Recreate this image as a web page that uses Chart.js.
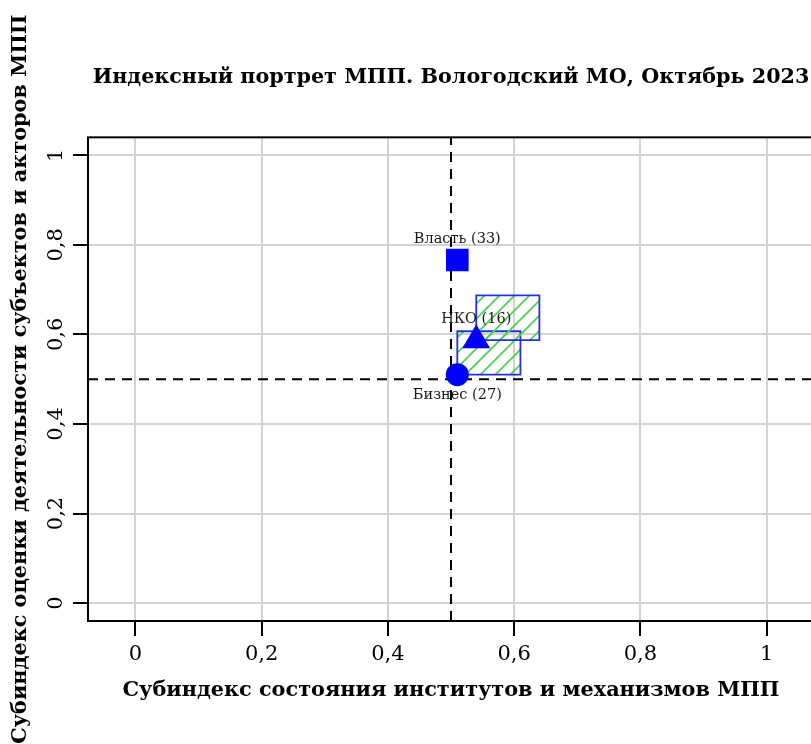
<!DOCTYPE html>
<html>
<head>
<meta charset="utf-8">
<script src="https://cdn.jsdelivr.net/npm/chart.js@4"></script>
<style>
  html, body { margin: 0; padding: 0; overflow: hidden; background: #fff; }
  canvas { display: block; }
</style>
</head>
<body>
<canvas id="chart" width="830" height="744"></canvas>
<script>
// groups of respondents and their two sub-indices
const groups = ['Власть', 'НКО', 'Бизнес'];
const respondents = [33, 16, 27];
const institutionsIndex = [0.51, 0.54, 0.51];
const actorsIndex = [0.766, 0.587, 0.51];

// hatched boxes
const boxXMin = [0.54, 0.51];
const boxXMax = [0.64, 0.61];
const boxYMin = [0.587, 0.51];
const boxYMax = [0.687, 0.607];

const threshold = 0.5;
const tickValues = [0, 0.2, 0.4, 0.6, 0.8, 1];
const tickLabels = ['0', '0,2', '0,4', '0,6', '0,8', '1'];

const titleText = 'Индексный портрет МПП. Вологодский МО, Октябрь 2023';
const xTitle = 'Субиндекс состояния институтов и механизмов МПП';
const yTitle = 'Субиндекс оценки деятельности субъектов и акторов МПП';

const SERIF = "'DejaVu Serif', serif";
const BLUE = '#0000ff';
const pointStyles = ['rect', 'triangle', 'circle'];
const pointSizes = [16, 16, 11.5];
const labelSide = [-1, -1, 1]; // -1 above the point, 1 below

function hatchPattern() {
  const s = 15;
  const tile = document.createElement('canvas');
  tile.width = s;
  tile.height = s;
  const g = tile.getContext('2d');
  g.strokeStyle = '#4fd24f';
  g.lineWidth = 1.8;
  g.beginPath();
  g.moveTo(-2, s + 2); g.lineTo(s + 2, -2);
  g.moveTo(-2, 2); g.lineTo(2, -2);
  g.moveTo(s - 2, s + 2); g.lineTo(s + 2, s - 2);
  g.stroke();
  return g.createPattern(tile, 'repeat');
}

const hatch = hatchPattern();

const boxDatasets = boxXMin.map((x0, i) => ({
  type: 'line',
  data: [
    { x: x0, y: boxYMin[i] },
    { x: boxXMax[i], y: boxYMin[i] },
    { x: boxXMax[i], y: boxYMax[i] },
    { x: x0, y: boxYMax[i] },
    { x: x0, y: boxYMin[i] },
  ],
  borderColor: '#2233dd',
  borderWidth: 1.8,
  backgroundColor: hatch,
  fill: 'shape',
  pointRadius: 0,
  tension: 0,
}));

const dashed = (data) => ({
  type: 'line',
  data,
  borderColor: '#000',
  borderWidth: 2,
  borderDash: [10, 7],
  pointRadius: 0,
  fill: false,
});

const frame = {
  id: 'frame',
  afterDatasetsDraw(chart) {
    const { ctx, chartArea: a } = chart;
    ctx.save();
    ctx.strokeStyle = '#000';
    ctx.lineWidth = 2;
    ctx.strokeRect(a.left, a.top, a.right - a.left, a.bottom - a.top);
    ctx.restore();
  },
};

const pointLabels = {
  id: 'pointLabels',
  afterDatasetsDraw(chart) {
    const { ctx } = chart;
    const meta = chart.getDatasetMeta(0);
    ctx.save();
    ctx.font = '14.5px ' + SERIF;
    ctx.fillStyle = '#1a1a1a';
    ctx.textAlign = 'center';
    ctx.textBaseline = 'middle';
    meta.data.forEach((pt, i) => {
      ctx.fillText(groups[i] + ' (' + respondents[i] + ')', pt.x, pt.y + labelSide[i] * 21);
    });
    ctx.restore();
  },
};

const axisTicks = (scale) => {
  scale.ticks = tickValues.map((v) => ({ value: v }));
};

new Chart(document.getElementById('chart'), {
  type: 'scatter',
  data: {
    datasets: [
      {
        data: institutionsIndex.map((x, i) => ({ x, y: actorsIndex[i] })),
        backgroundColor: BLUE,
        borderColor: BLUE,
        borderWidth: 0,
        pointStyle: pointStyles,
        pointRadius: pointSizes,
      },
      ...boxDatasets,
      dashed([{ x: threshold, y: -0.04 }, { x: threshold, y: 1.04 }]),
      dashed([{ x: -0.075, y: threshold }, { x: 1.075, y: threshold }]),
    ],
  },
  options: {
    responsive: false,
    animation: false,
    devicePixelRatio: 1,
    layout: { padding: { right: 13 } },
    plugins: {
      legend: { display: false },
      tooltip: { enabled: false },
      title: {
        display: true,
        text: titleText,
        color: '#000',
        fullSize: false,
        font: { family: SERIF, size: 20.7, weight: 'bold' },
        padding: { top: 65, bottom: 47.5 },
      },
    },
    scales: {
      x: {
        type: 'linear',
        min: -0.075,
        max: 1.075,
        afterBuildTicks: axisTicks,
        afterFit: (s) => { s.height = 123; },
        border: { display: false },
        grid: { color: '#d3d3d3', lineWidth: 2, tickColor: '#000', tickWidth: 2, tickLength: 15 },
        ticks: {
          callback: (v) => tickLabels[tickValues.indexOf(v)],
          color: '#000',
          font: { family: SERIF, size: 21 },
          maxRotation: 0,
          autoSkip: false,
          padding: 6,
        },
        title: {
          display: true,
          text: xTitle,
          color: '#000',
          font: { family: SERIF, size: 20.8, weight: 'bold' },
          padding: { top: 0, bottom: 41 },
        },
      },
      y: {
        type: 'linear',
        min: -0.04,
        max: 1.04,
        afterBuildTicks: axisTicks,
        afterFit: (s) => { s.width = 88; },
        border: { display: false },
        grid: { color: '#d3d3d3', lineWidth: 2, tickColor: '#000', tickWidth: 2, tickLength: 15 },
        ticks: {
          callback: (v) => tickLabels[tickValues.indexOf(v)],
          color: '#000',
          font: { family: SERIF, size: 21 },
          minRotation: 90,
          maxRotation: 90,
          crossAlign: 'center',
          autoSkip: false,
          padding: 0,
        },
        title: {
          display: true,
          text: yTitle,
          color: '#000',
          font: { family: SERIF, size: 20.8, weight: 'bold' },
          padding: { top: 8, bottom: 0 },
        },
      },
    },
  },
  plugins: [frame, pointLabels],
});
</script>
</body>
</html>
